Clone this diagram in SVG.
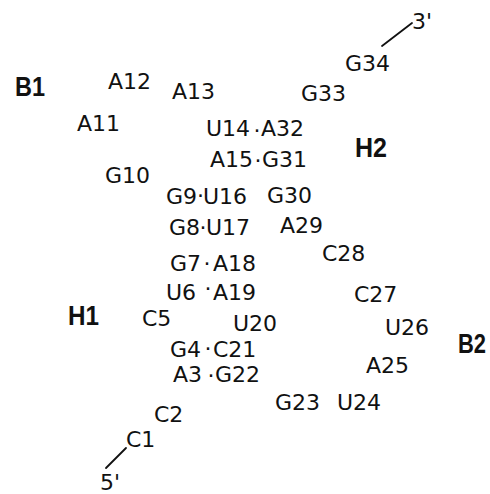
<svg xmlns="http://www.w3.org/2000/svg" width="490" height="494" viewBox="0 0 490 494">
  <style>
    .base { font-family: "DejaVu Sans", "Liberation Sans", sans-serif; font-size: 22px; fill: #111; }
    .dot { font-family: "DejaVu Sans", sans-serif; font-size: 22px; fill: #111; }
    .region { font-family: "Liberation Sans", Arial, sans-serif; font-weight: bold; font-size: 28px; fill: #111; }
    .tail { stroke: #111; stroke-width: 1.8; fill: none; stroke-linecap: round; }
  </style>
  <rect width="490" height="494" fill="#fff"/>

  <!-- strand ends -->
  <g id="connectors">
    <path class="tail" d="M382 46 L412 23"/>
    <path class="tail" d="M106 468 L126 448"/>
  </g>

  <g id="end-3"><text class="base" x="412" y="29">3'</text></g>
  <g id="end-5"><text class="base" x="100" y="490">5'</text></g>

  <!-- single-stranded / loop bases -->
  <g id="G34"><text class="base" x="345" y="71">G34</text></g>
  <g id="G33"><text class="base" x="301" y="101">G33</text></g>
  <g id="A12"><text class="base" x="108" y="89">A12</text></g>
  <g id="A13"><text class="base" x="172" y="99">A13</text></g>
  <g id="A11"><text class="base" x="77" y="131">A11</text></g>
  <g id="G10"><text class="base" x="105" y="183">G10</text></g>
  <g id="G30"><text class="base" x="267" y="203">G30</text></g>
  <g id="A29"><text class="base" x="280" y="233">A29</text></g>
  <g id="C28"><text class="base" x="322" y="261">C28</text></g>
  <g id="C27"><text class="base" x="354" y="302">C27</text></g>
  <g id="C5"><text class="base" x="142" y="326">C5</text></g>
  <g id="U20"><text class="base" x="233" y="331">U20</text></g>
  <g id="U26"><text class="base" x="385" y="335">U26</text></g>
  <g id="A25"><text class="base" x="366" y="373">A25</text></g>
  <g id="G23"><text class="base" x="275" y="410">G23</text></g>
  <g id="U24"><text class="base" x="337" y="410">U24</text></g>
  <g id="C2"><text class="base" x="154" y="422">C2</text></g>
  <g id="C1"><text class="base" x="126" y="447">C1</text></g>

  <!-- base pairs -->
  <g id="pair-U14-A32"><text class="base" y="136"><tspan x="206">U14</tspan><tspan class="dot" x="253.5" y="137.5">·</tspan><tspan x="261" y="136">A32</tspan></text></g>
  <g id="pair-A15-G31"><text class="base" y="167"><tspan x="210">A15</tspan><tspan class="dot" x="254.5" y="167.5">·</tspan><tspan x="262" y="167">G31</tspan></text></g>
  <g id="pair-G9-U16"><text class="base" y="204"><tspan x="166">G9</tspan><tspan class="dot" x="197" y="202.5">·</tspan><tspan x="203" y="204">U16</tspan></text></g>
  <g id="pair-G8-U17"><text class="base" y="235"><tspan x="169">G8</tspan><tspan class="dot" x="199.5" y="234.5">·</tspan><tspan x="206" y="235">U17</tspan></text></g>
  <g id="pair-G7-A18"><text class="base" y="271"><tspan x="170">G7</tspan><tspan class="dot" x="203.5" y="270.5">·</tspan><tspan x="213" y="271">A18</tspan></text></g>
  <g id="pair-U6-A19"><text class="base" y="300"><tspan x="166">U6</tspan><tspan class="dot" x="204.5" y="295.5">·</tspan><tspan x="213" y="300">A19</tspan></text></g>
  <g id="pair-G4-C21"><text class="base" y="357"><tspan x="170">G4</tspan><tspan class="dot" x="204.5" y="355.5">·</tspan><tspan x="213" y="357">C21</tspan></text></g>
  <g id="pair-A3-G22"><text class="base" y="382"><tspan x="173">A3</tspan><tspan class="dot" x="207.5" y="382.5">·</tspan><tspan x="215" y="382">G22</tspan></text></g>

  <!-- helix and bulge labels -->
  <g id="label-B1"><text class="region" x="15" y="96" textLength="30" lengthAdjust="spacingAndGlyphs">B1</text></g>
  <g id="label-H2"><text class="region" x="355" y="157" textLength="32" lengthAdjust="spacingAndGlyphs">H2</text></g>
  <g id="label-H1"><text class="region" x="68" y="325" textLength="31" lengthAdjust="spacingAndGlyphs">H1</text></g>
  <g id="label-B2"><text class="region" x="458" y="353" textLength="28" lengthAdjust="spacingAndGlyphs">B2</text></g>
</svg>
